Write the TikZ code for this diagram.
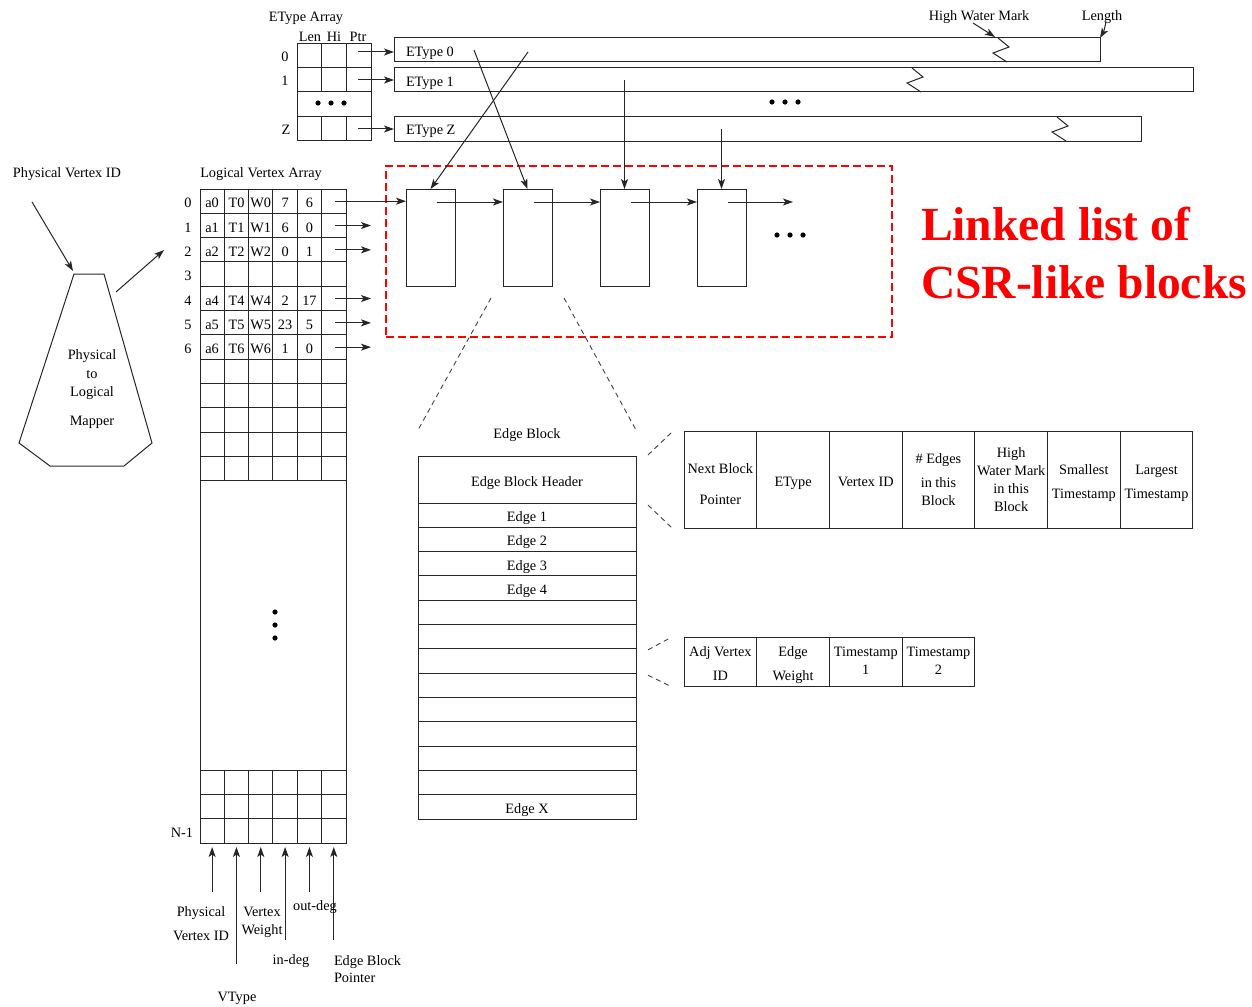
\documentclass[tikz,border=0pt]{standalone}
\usepackage{fontspec}
\setmainfont{Liberation Serif}
\usepackage{tikz}
\usetikzlibrary{arrows.meta,positioning,calc}

\begin{document}
\begin{tikzpicture}[
  x=1pt, y=-1pt,
  font=\fontsize{14.3}{17}\selectfont,
  every node/.style={inner sep=1pt, outer sep=0pt, text height=13pt, text depth=0pt},
  ml/.style={text height={}, align=center},
  ln/.style={draw=black!85, line width=1pt},
  arr/.style={-{Stealth[length=10pt,width=7pt,inset=2.5pt]}, draw=black!85, line width=1pt},
  bar/.style={ln, rectangle, minimum height=24pt, inner sep=0pt, anchor=north west},
  blk/.style={ln, rectangle, minimum width=49pt, minimum height=97pt, inner sep=0pt, anchor=north west},
  erow/.style={ln, rectangle, minimum width=218pt, minimum height=24.31pt, inner sep=0pt, anchor=north west},
  hcell/.style={ln, rectangle, minimum width=72.7pt, minimum height=97pt, inner sep=0pt, anchor=north west},
  ecell/.style={hcell, minimum height=49pt},
  zoomln/.style={draw=black!75, line width=0.9pt, dash pattern=on 5pt off 4pt},
  csr/.style={draw=red, line width=2pt, dash pattern=on 8pt off 4pt, rectangle, inner sep=0pt, anchor=north west},
  csrtext/.style={text=red, font=\fontsize{47.5}{58}\selectfont\bfseries, anchor=base west, inner sep=0pt}
]
\useasboundingbox (0,0) rectangle (1252,1006);

% EType array
\node (etlbl) at (306,15) {EType Array};
\node (hlen) at (310,35) {Len};
\node (hhi) at (334,35) {Hi};
\node (hptr) at (358,35) {Ptr};
\draw[ln] (297,44) rectangle (371,140);
\foreach \yy in {68,92,117} \draw[ln] (297,\yy) -- (371,\yy);
\foreach \xx in {321.7,346} {
  \draw[ln] (\xx,44) -- (\xx,92);
  \draw[ln] (\xx,117) -- (\xx,140);
}
\foreach \i in {0,1,2} \fill (318+\i*13,103) circle (2.6pt);
\node (r0) at (285,55) {0};
\node (r1) at (285,79) {1};
\node (rz) at (286,128) {Z};

\node[bar, minimum width=706pt] (et0) at (394,38) {};
\node[bar, minimum width=799pt] (et1) at (394,68) {};
\node[bar, minimum width=747pt] (etz) at (394,117) {};
\node[anchor=west] (et0t) at (405,50) {EType 0};
\node[anchor=west] (et1t) at (405,80) {EType 1};
\node[anchor=west] (etzt) at (405,128) {EType Z};
\foreach \zx/\zy in {998/38, 912/68, 1057/117}
  \draw[ln] (\zx,\zy) -- ++(11,9) -- ++(-16,6) -- ++(14,9);
\foreach \i in {0,1,2} \fill (772+\i*13,102) circle (2.6pt);

\coordinate (p0) at (358,52);
\coordinate (p1) at (358,80);
\coordinate (pz) at (358,129);
\draw[arr] (p0) -- (p0 -| et0.west);
\draw[arr] (p1) -- (p1 -| et1.west);
\draw[arr] (pz) -- (pz -| etz.west);

\node (hwm) at (979,14) {High Water Mark};
\node (len) at (1102,14) {Length};
\coordinate (hwmtail) at (973,23);
\coordinate (hwmtip) at (995,37);
\draw[arr] (hwmtail) -- (hwmtip);
\draw[arr] ([xshift=4pt]len.south) to[bend left=10] (et0.north east);

% linked list of blocks
\node[csr, minimum width=506pt, minimum height=171pt] (csrbox) at (386,166) {};
\node[csrtext] (csr1) at (921,240) {Linked list of};
\node[csrtext] (csr2) at (921,298) {CSR-like blocks};

\foreach \i/\xx in {1/406,2/503,3/600,4/697}
  \node[blk] (b\i) at (\xx,189) {};
\foreach \i/\j in {1/2,2/3,3/4} {
  \coordinate (nx\i) at ($(b\i.north)+(6,13)$);
  \draw[arr] (nx\i) -- (nx\i -| b\j.west);
}
\coordinate (nx4) at ($(b4.north)+(6,13)$);
\coordinate (nxend) at (793,202);
\draw[arr] (nx4) -- (nxend);
\foreach \i in {0,1,2} \fill (777+\i*13,235) circle (2.6pt);

\coordinate (s0a) at (474,50);
\coordinate (s0b) at (528,52);
\coordinate (s1) at (624.5,80);
\coordinate (sz) at (721.5,129);
\draw[arr] (s0a) -- (b2.north);
\draw[arr] (s0b) -- (b1.north);
\draw[arr] (s1) -- (b3.north);
\draw[arr] (sz) -- (b4.north);

% physical to logical mapper
\node (pvid) at (67,171) {Physical Vertex ID};
\draw[ln] (74,274) -- (104,274) -- (152,443) -- (124,466) -- (50,466) -- (19,443) -- cycle;
\node[ml, font=\fontsize{14.3}{18.5}\selectfont] (mapper) at (92,387.5)
  {Physical\\to\\Logical\\[10pt]Mapper};
\coordinate (pvtail) at (32,202);
\coordinate (mapin) at (73,271);
\coordinate (mapout) at (116,292);
\coordinate (lvahead) at (164,250);
\draw[arr] (pvtail) -- (mapin);
\draw[arr] (mapout) -- (lvahead);

% logical vertex array
\node (lvalbl) at (261,171) {Logical Vertex Array};
\draw[ln] (200,189) rectangle (346,843);
\foreach \r in {1,...,12} \draw[ln] (200,189+\r*24.33) -- (346,189+\r*24.33);
\foreach \yy in {770,794.3,818.7} \draw[ln] (200,\yy) -- (346,\yy);
\foreach \c in {1,...,5} {
  \draw[ln] (200+\c*24.33,189) -- (200+\c*24.33,481);
  \draw[ln] (200+\c*24.33,770) -- (200+\c*24.33,843);
}
\foreach \r in {0,...,6} \node (rl\r) at (188,201.2+\r*24.33) {\r};
\node (rln) at (182,831) {N-1};
\foreach \r/\va/\vb/\vc/\vd/\ve in {0/a0/T0/W0/7/6, 1/a1/T1/W1/6/0, 2/a2/T2/W2/0/1,
    4/a4/T4/W4/2/17, 5/a5/T5/W5/23/5, 6/a6/T6/W6/1/0} {
  \foreach \c/\v in {1/\va,2/\vb,3/\vc,4/\vd,5/\ve}
    \node (v\r-\c) at (187.8+\c*24.33,201.2+\r*24.33) {\v};
}
\coordinate (pt0) at (335,201.2);
\draw[arr] (pt0) -- (pt0 -| b1.west);
\foreach \r in {1,2,4,5,6} {
  \coordinate (pt\r) at (335,201.2+\r*24.33);
  \coordinate (pe\r) at (371,201.2+\r*24.33);
  \draw[arr] (pt\r) -- (pe\r);
}
\foreach \i in {0,1,2} \fill (275,612+\i*13) circle (2.6pt);

% field arrows
\foreach \c/\ty in {1/892,2/964,3/892,4/940,5/892,6/940} {
  \coordinate (ft\c) at (187.8+\c*24.33,\ty);
  \coordinate (fh\c) at (187.8+\c*24.33,847);
  \draw[arr] (ft\c) -- (fh\c);
}
\node[ml, font=\fontsize{14.3}{24}\selectfont] (fpv) at (201,924) {Physical\\Vertex ID};
\node[ml, font=\fontsize{14.3}{18}\selectfont] (fvw) at (262,920.5) {Vertex\\Weight};
\node (fout) at (315,904) {out-deg};
\node (fin) at (291,958) {in-deg};
\node[ml, align=left, anchor=west, font=\fontsize{14.3}{17}\selectfont] (febp) at (333,969) {Edge Block\\Pointer};
\node (fvt) at (237,995) {VType};

% edge block
\node (eblbl) at (527,432) {Edge Block};
\node[erow, minimum height=47pt] (ebh) at (418,456) {Edge Block Header};
\foreach \i/\t in {1/Edge 1,2/Edge 2,3/Edge 3,4/Edge 4,13/Edge X}
  \node[erow] (e\i) at (418,503+\i*24.31-24.31) {\t};
\foreach \i in {5,...,12}
  \node[erow] (e\i) at (418,503+\i*24.31-24.31) {};
\coordinate (zl) at (491,298);
\coordinate (zr) at (564,298);
\draw[zoomln] (zl) -- ($(ebh.north west)+(0,-26)$);
\draw[zoomln] (zr) -- ($(ebh.north east)+(0,-26)$);

% header fields
\foreach \i/\s/\t in {0/4.5/{Next Block\\[13pt]Pointer}, 1/2.5/EType, 2/2/Vertex ID,
    3/0/{\# Edges\\[6pt]in this\\Block}, 4/0/{High\\Water Mark\\in this\\Block},
    5/2.5/{Smallest\\[6pt]Timestamp}, 6/2.5/{Largest\\[6pt]Timestamp}} {
  \node[hcell] (h\i) at (684+\i*72.7,431) {};
  \node[ml, font=\fontsize{14.3}{18}\selectfont] (ht\i) at ($(h\i.center)+(0,\s)$) {\t};
}
\draw[zoomln] ($(ebh.north east)+(12,-1)$) -- ($(h0.north west)+(-12,1)$);
\draw[zoomln] ($(ebh.south east)+(12,2)$) -- ($(h0.south west)+(-12,0)$);

% edge fields
\foreach \i/\s/\t in {0/2/{Adj Vertex\\[6pt]ID}, 1/2.5/{Edge\\[6pt]Weight}, 2/-1/{Timestamp\\1}, 3/-1/{Timestamp\\2}} {
  \node[ecell] (d\i) at (684+\i*72.7,637) {};
  \node[ml, font=\fontsize{14.3}{18}\selectfont] (dt\i) at ($(d\i.center)+(0,\s)$) {\t};
}
\draw[zoomln] ($(e7.north east)+(12,1)$) -- ($(d0.north west)+(-14,1)$);
\draw[zoomln] ($(e7.south east)+(12,2)$) -- ($(d0.south west)+(-14,0)$);
\end{tikzpicture}
\end{document}
